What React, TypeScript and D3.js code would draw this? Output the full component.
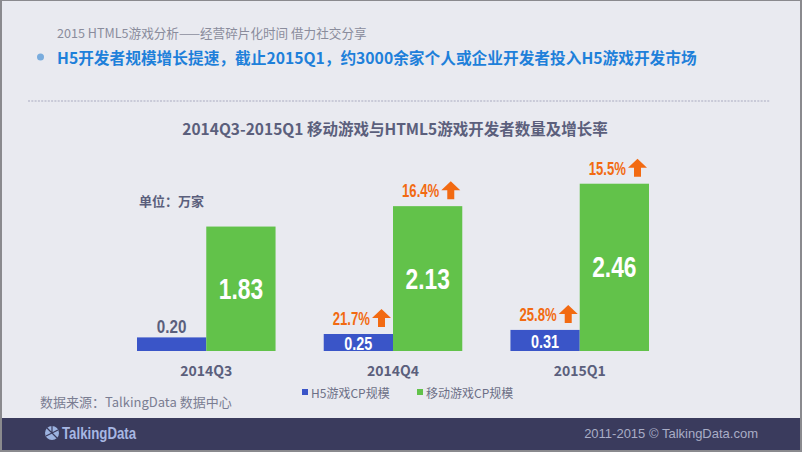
import React from "react";
import * as d3 from "d3";

const categories = ["2014Q3", "2014Q4", "2015Q1"];
const h5Values = [0.2, 0.25, 0.31];
const mobileValues = [1.83, 2.13, 2.46];
const h5Growth: (number | null)[] = [null, 21.7, 25.8];
const mobileGrowth: (number | null)[] = [null, 16.4, 15.5];
const seriesNames = ["H5游戏CP规模", "移动游戏CP规模"];

const W = 802;
const H = 452;
const BLUE = "#3A55C8";
const GREEN = "#62C24A";
const ORANGE = "#F26A12";
const GRAY = "#5B5F7C";
const CJK = "'Noto Sans CJK SC', 'Noto Sans', sans-serif";
const NUM = "'Liberation Sans', Arial, sans-serif";

const x = d3.scaleBand<string>().domain(categories).range([137, 649]).paddingInner(0.258).paddingOuter(0);
const xs = d3.scaleBand<string>().domain(["h5", "mobile"]).range([0, x.bandwidth()]).padding(0);
const y = d3.scaleLinear().domain([0, 2.5]).range([351, 181]);

function CondText({ x, y, anchor, size, fill, sx, children }: { x: number; y: number; anchor: string; size: number; fill: string; sx: number; children: React.ReactNode }) {
  return (
    <text
      transform={`translate(${x},${y}) scale(${sx},1)`}
      textAnchor={anchor}
      dominantBaseline="central"
      fontFamily={NUM}
      fontWeight="bold"
      fontSize={size}
      fill={fill}
    >
      {children}
    </text>
  );
}

function Arrow({ right, bottom }: { right: number; bottom: number }) {
  const w = 19;
  const h = 18;
  const l = right - w;
  const t = bottom - h;
  const sw = 7;
  const cx = l + w / 2;
  const headH = 9;
  const d = `M${cx},${t} L${right},${t + headH} L${cx + sw / 2},${t + headH} L${cx + sw / 2},${bottom} L${cx - sw / 2},${bottom} L${cx - sw / 2},${t + headH} L${l},${t + headH} Z`;
  return <path d={d} fill={ORANGE} />;
}

function Growth({ value, right, top }: { value: number; right: number; top: number }) {
  const bottom = top - 7;
  return (
    <g>
      <Arrow right={right - 2} bottom={bottom} />
      <CondText x={right - 23} y={bottom - 8} anchor="end" size={18} fill={ORANGE} sx={0.73}>
        {value.toFixed(1)}%
      </CondText>
    </g>
  );
}

export default function App() {
  const dots = d3.range(28, 768, 3.3);
  return (
    <svg width={W} height={H} style={{ display: "block", position: "absolute", left: 0, top: 0 }}>
      <rect x={0} y={0} width={W} height={H} fill="#8A8A8E" />
      <rect x={2} y={1} width={W - 4} height={H - 3} fill="#E9EAF0" />
      <rect x={2} y={418} width={W - 4} height={32} fill="#3A3B5D" />

      <text x={57} y={32} dominantBaseline="central" fontFamily={CJK} fontSize={12.6} fill="#8A8C9C">
        2015 HTML5游戏分析——经营碎片化时间 借力社交分享
      </text>
      <circle cx={40.5} cy={57} r={3.5} fill="#79ACDD" />
      <text x={57} y={57} dominantBaseline="central" fontFamily={CJK} fontSize={15.7} fontWeight="bold" fill="#1E80DA">
        H5开发者规模增长提速，截止2015Q1，约3000余家个人或企业开发者投入H5游戏开发市场
      </text>
      {dots.map((d, i) => (
        <rect key={i} x={d} y={100} width={2} height={2} fill="#C9CAD8" />
      ))}

      <text x={395} y={128} textAnchor="middle" dominantBaseline="central" fontFamily={CJK} fontSize={15.5} fontWeight="bold" fill={GRAY}>
        2014Q3-2015Q1 移动游戏与HTML5游戏开发者数量及增长率
      </text>

      <text x={139} y={200} dominantBaseline="central" fontFamily={CJK} fontSize={13} fontWeight="bold" fill={GRAY}>
        单位：万家
      </text>

      {categories.map((c, i) => {
        const x0 = x(c)!;
        const bx = x0 + xs("h5")!;
        const gx = x0 + xs("mobile")!;
        const bw = xs.bandwidth();
        const by = y(h5Values[i]);
        const gy = y(mobileValues[i]);
        const hg = h5Growth[i];
        const mg = mobileGrowth[i];
        return (
          <g key={c}>
            <rect x={bx} y={by} width={bw} height={y(0) - by} fill={BLUE} />
            <rect x={gx} y={gy} width={bw} height={y(0) - gy} fill={GREEN} />
            {hg == null ? (
              <CondText x={bx + bw / 2} y={by - 11} anchor="middle" size={19} fill={GRAY} sx={0.8}>
                {h5Values[i].toFixed(2)}
              </CondText>
            ) : (
              <CondText x={bx + bw / 2} y={(by + y(0)) / 2 + 1} anchor="middle" size={18} fill="#FFFFFF" sx={0.8}>
                {h5Values[i].toFixed(2)}
              </CondText>
            )}
            <CondText x={gx + bw / 2} y={(gy + y(0)) / 2} anchor="middle" size={30} fill="#FFFFFF" sx={0.76}>
              {mobileValues[i].toFixed(2)}
            </CondText>
            {hg != null && <Growth value={hg} right={bx + bw} top={by} />}
            {mg != null && <Growth value={mg} right={gx + bw} top={gy} />}
            <text x={x0 + x.bandwidth() / 2} y={370} textAnchor="middle" dominantBaseline="central" fontFamily={CJK} fontSize={14} fontWeight="bold" fill={GRAY}>
              {c}
            </text>
          </g>
        );
      })}

      <rect x={302} y={389} width={6} height={6} fill={BLUE} />
      <text x={311} y={392.5} dominantBaseline="central" fontFamily={CJK} fontSize={12} fill="#6C6F86">
        {seriesNames[0]}
      </text>
      <rect x={417} y={389} width={6} height={6} fill={GREEN} />
      <text x={426} y={392.5} dominantBaseline="central" fontFamily={CJK} fontSize={12} fill="#6C6F86">
        {seriesNames[1]}
      </text>

      <text x={40} y={401.5} dominantBaseline="central" fontFamily={CJK} fontSize={13} fill="#7A7D92">
        数据来源：TalkingData 数据中心
      </text>

      <g>
        <circle cx={52} cy={433} r={7} fill="#9CB3E0" />
        <path d="M52,433 L52,426 M52,433 L58,430 M52,433 L57,438 M52,433 L46,436 M52,433 L47,428" stroke="#3A3B5D" strokeWidth={1.2} />
        <CondText x={62} y={433} anchor="start" size={17} fill="#A7B7E3" sx={0.78}>
          TalkingData
        </CondText>
      </g>
      <text x={758} y={433} textAnchor="end" dominantBaseline="central" fontFamily="'Liberation Sans', Arial, sans-serif" fontSize={13} fill="#A9ADC6">
        2011-2015 © TalkingData.com
      </text>
    </svg>
  );
}
